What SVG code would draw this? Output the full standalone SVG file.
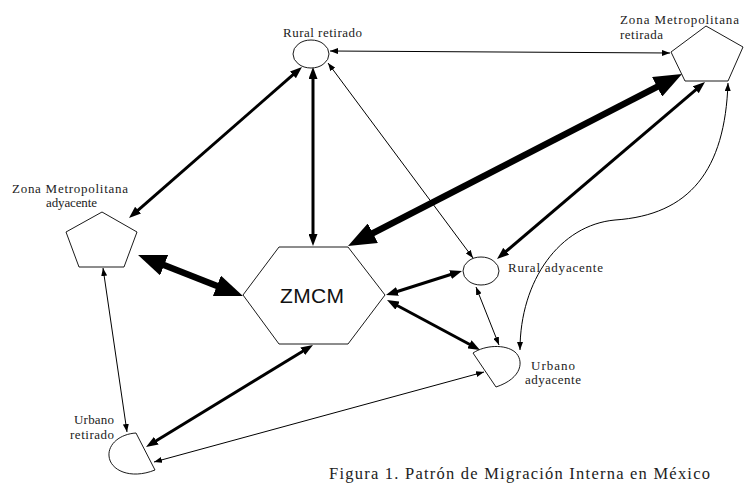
<svg xmlns="http://www.w3.org/2000/svg" width="751" height="499" viewBox="0 0 751 499">
<style>
.shape{fill:#fff;stroke:#000;stroke-width:0.9}
.lbl{font-family:"Liberation Serif","DejaVu Serif",serif;font-size:13px;fill:#222}
.thin{stroke:#000;stroke-width:1;fill:none;marker-start:url(#aThin);marker-end:url(#aThin)}
.med{stroke:#000;stroke-width:3;fill:none;marker-start:url(#aMed);marker-end:url(#aMed)}
.thick{stroke:#000;stroke-width:6.5;fill:none;marker-start:url(#aThick);marker-end:url(#aThick)}
</style>
<defs>
<marker id="aThin" markerUnits="userSpaceOnUse" viewBox="0 0 8 6" refX="8" refY="3" markerWidth="8" markerHeight="6" orient="auto-start-reverse"><path d="M0,0 L8,3 L0,6 z" fill="#000"/></marker>
<marker id="aMed" markerUnits="userSpaceOnUse" viewBox="0 0 12 9" refX="1" refY="4.5" markerWidth="12" markerHeight="9" orient="auto-start-reverse"><path d="M0,0 L12,4.5 L0,9 z" fill="#000"/></marker>
<marker id="aThick" markerUnits="userSpaceOnUse" viewBox="0 0 28 22" refX="1" refY="11" markerWidth="28" markerHeight="22" orient="auto-start-reverse"><path d="M0,0 L28,11 L0,22 z" fill="#000"/></marker>
</defs>
<rect width="751" height="499" fill="#fff"/>
<g id="connectors">
<line class="thin" x1="330" y1="51" x2="670" y2="53"/>
<line class="thin" x1="328" y1="63" x2="473" y2="258"/>
<path class="thin" d="M728,83 C725,170 690,215 615,220 C560,225 520,280 520,350"/>
<line class="thin" x1="103" y1="268" x2="127" y2="432"/>
<line class="thin" x1="476" y1="287" x2="499" y2="345"/>
<line class="thin" x1="484" y1="372" x2="154" y2="462"/>
<line class="med" x1="313" y1="78" x2="313" y2="235"/>
<line class="med" x1="293.7" y1="74.2" x2="137.3" y2="210.8"/>
<line class="med" x1="505.4" y1="251.9" x2="696.6" y2="89.1"/>
<line class="med" x1="396.5" y1="291.7" x2="451.5" y2="274.3"/>
<line class="med" x1="396.7" y1="305.2" x2="470.3" y2="344.8"/>
<line class="med" x1="303.6" y1="350.7" x2="155.4" y2="441.3"/>
<line class="thick" x1="372.0" y1="233.6" x2="658.0" y2="86.4"/>
<line class="thick" x1="163.2" y1="264.8" x2="217.8" y2="286.2"/>
</g>
<g id="rural-retirado">
<ellipse class="shape" cx="311" cy="54" rx="18" ry="14"/>
<text class="lbl" x="283" y="37" textLength="79">Rural retirado</text>
</g>
<g id="zm-retirada">
<polygon class="shape" points="706,26 743,47 728,81 685,81 671,52"/>
<text class="lbl" x="620" y="24" textLength="119">Zona Metropolitana</text>
<text class="lbl" x="620" y="38.5" textLength="43">retirada</text>
</g>
<g id="zm-adyacente">
<polygon class="shape" points="102,212 137,232 124,267 79,267 66,232"/>
<text class="lbl" x="12" y="192.5" textLength="116">Zona Metropolitana</text>
<text class="lbl" x="46" y="207" textLength="51">adyacente</text>
</g>
<g id="zmcm">
<polygon class="shape" points="243,295 279,247 348,247 385,295 348,344 279,344"/>
<text x="312" y="303" text-anchor="middle" font-family="Liberation Sans, Arial, sans-serif" font-size="21" textLength="64" fill="#111">ZMCM</text>
</g>
<g id="rural-adyacente">
<ellipse class="shape" cx="481" cy="271" rx="18" ry="14"/>
<text class="lbl" x="508" y="272" textLength="95">Rural adyacente</text>
</g>
<g id="urbano-adyacente">
<path class="shape" d="M473,353 C485,345 505,344 515,352 C524,360 523,378 496,387 Z"/>
<text class="lbl" x="531" y="370" textLength="44">Urbano</text>
<text class="lbl" x="525" y="384" textLength="56">adyacente</text>
</g>
<g id="urbano-retirado">
<path class="shape" d="M136,433 C120,434 108,444 109,456 C110,470 130,480 155,470 Z"/>
<text class="lbl" x="74" y="424" textLength="40">Urbano</text>
<text class="lbl" x="70" y="439" textLength="44">retirado</text>
</g>
<text x="329" y="479" font-family="Liberation Serif, serif" font-size="16.5" textLength="381" fill="#222">Figura 1. Patrón de Migración Interna en México</text>
</svg>
